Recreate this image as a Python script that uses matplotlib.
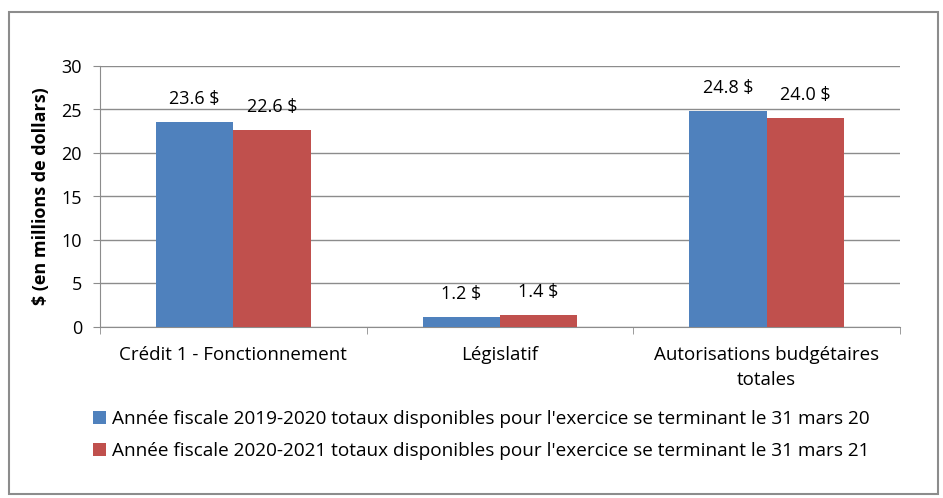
import matplotlib
matplotlib.use("Agg")
import matplotlib.pyplot as plt
import numpy as np
from matplotlib.patches import Rectangle

categories = ["Crédit 1 - Fonctionnement", "Législatif", "Autorisations budgétaires\ntotales"]
series_names = [
    "Année fiscale 2019-2020 totaux disponibles pour l'exercice se terminant le 31 mars 20",
    "Année fiscale 2020-2021 totaux disponibles pour l'exercice se terminant le 31 mars 21",
]
values_2020 = [23.6, 1.2, 24.8]
values_2021 = [22.6, 1.4, 24.0]
yticks = [0, 5, 10, 15, 20, 25, 30]
colors = ["#4F81BD", "#C0504D"]

plt.rcParams["font.family"] = ["Open Sans", "DejaVu Sans"]

fig = plt.figure(figsize=(9.43, 4.98), dpi=100)
W, H = 943, 498
ax = fig.add_axes([100 / W, 1 - 327 / H, 800 / W, 261 / H])

x = np.arange(len(categories))
w = 0.29
for i, (vals, c) in enumerate(zip([values_2020, values_2021], colors)):
    pos = x + (i - 0.5) * w
    ax.bar(pos, vals, width=w, color=c, label=series_names[i], zorder=3)
    for p, v in zip(pos, vals):
        ax.annotate(f"{v:.1f} $", (p, v), xytext=(0, 10), textcoords="offset points",
                    ha="center", va="bottom", fontsize=13)

ax.set_xlim(-0.5, 2.5)
ax.set_ylim(0, 30)
ax.set_yticks(yticks)
ax.set_yticklabels([str(t) for t in yticks], fontsize=13)
ax.yaxis.grid(True, color="#8c8c8c", linewidth=1, zorder=0)
ax.set_xticks(x)
ax.set_xticklabels(categories, fontsize=13.5, linespacing=1.5)
ax.tick_params(axis="x", length=0, pad=14)
ax.set_xticks([-0.5, 0.5, 1.5, 2.5], minor=True)
ax.tick_params(axis="x", which="minor", length=5, color="#8c8c8c")
ax.tick_params(axis="y", length=5, color="#8c8c8c", pad=8)
for s in ["top", "right"]:
    ax.spines[s].set_visible(False)
ax.spines["left"].set_color("#8c8c8c")
ax.spines["bottom"].set_color("#8c8c8c")
ax.set_ylabel("$ (en millions de dollars)", fontsize=13, fontweight="bold", labelpad=8)

leg = fig.legend(loc="upper left", bbox_to_anchor=(76 / W, 1 - 393 / H), frameon=False,
                 fontsize=13.7, handlelength=0.7, handleheight=0.7, handletextpad=0.3,
                 labelspacing=0.75)

fig.add_artist(Rectangle((9 / W, 4 / H), 929 / W, 482 / H, transform=fig.transFigure,
                         fill=False, edgecolor="#8c8c8c", linewidth=1.5))

fig.savefig("out.png", dpi=100)
